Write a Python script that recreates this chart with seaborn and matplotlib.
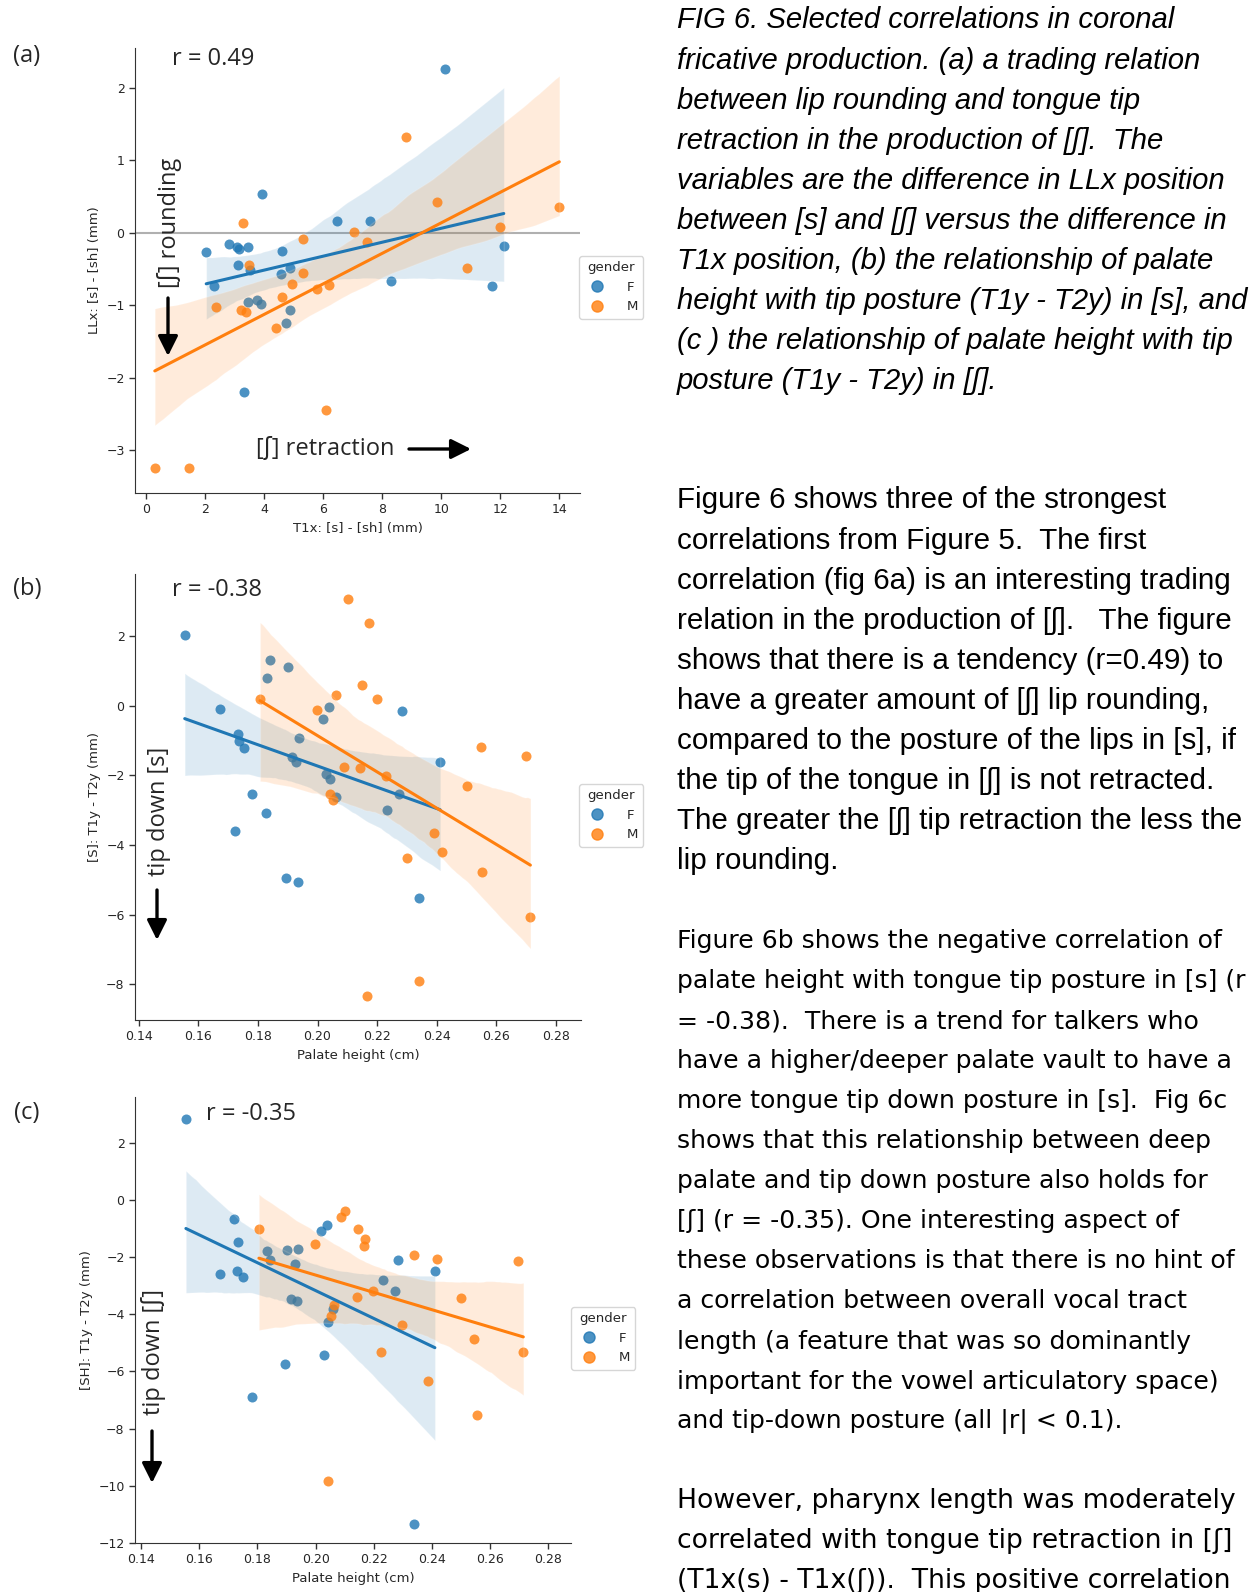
import matplotlib
matplotlib.use("Agg")
from matplotlib import pyplot as plt
from matplotlib.lines import Line2D
import pandas as pd
import seaborn as sns

# --- data ---
# (a) LLx vs T1x, [s] - [sh]
a_f_x = [10.13, 3.95, 6.49, 7.58, 2.05, 2.81, 3.10, 3.16, 3.47, 4.61, 3.12, 3.53,
         2.33, 4.59, 4.87, 8.29, 11.73, 12.12, 3.47, 3.78, 3.90, 4.87, 4.76, 3.33]
a_f_y = [2.26, 0.54, 0.16, 0.16, -0.26, -0.16, -0.19, -0.23, -0.19, -0.25, -0.44, -0.51,
         -0.73, -0.57, -0.49, -0.66, -0.74, -0.18, -0.96, -0.93, -0.98, -1.07, -1.25, -2.20]
a_m_x = [8.82, 9.87, 14.0, 3.30, 7.05, 5.31, 7.50, 11.98, 3.51, 5.31, 4.94, 5.80,
         6.22, 4.62, 10.88, 2.37, 3.23, 3.41, 4.42, 6.12, 0.31, 1.46]
a_m_y = [1.32, 0.43, 0.36, 0.14, 0.01, -0.08, -0.12, 0.08, -0.45, -0.55, -0.71, -0.78,
         -0.72, -0.89, -0.48, -1.02, -1.07, -1.09, -1.31, -2.44, -3.25, -3.25]

# (b) [s] tip posture vs palate height
b_f_x = [0.1554, 0.1671, 0.1734, 0.1736, 0.1752, 0.1841, 0.1832, 0.1902, 0.1938, 0.1914,
         0.1928, 0.1780, 0.1827, 0.1723, 0.1895, 0.1935, 0.2019, 0.2040, 0.2030, 0.2042,
         0.2063, 0.2233, 0.2273, 0.2283, 0.2412, 0.2340]
b_f_y = [2.03, -0.10, -0.80, -1.01, -1.20, 1.30, 0.80, 1.10, -0.92, -1.47,
         -1.62, -2.52, -3.09, -3.61, -4.95, -5.07, -0.37, -0.03, -1.97, -2.10,
         -2.63, -2.98, -2.52, -0.16, -1.61, -5.51]
b_m_x = [0.2102, 0.2172, 0.2148, 0.2063, 0.2199, 0.1807, 0.1998, 0.2090, 0.2142, 0.2229,
         0.2042, 0.2053, 0.2548, 0.2700, 0.2502, 0.2390, 0.2419, 0.2299, 0.2554, 0.2715,
         0.2340, 0.2166]
b_m_y = [3.07, 2.36, 0.59, 0.30, 0.20, 0.19, -0.11, -1.75, -1.78, -2.03,
         -2.53, -2.70, -1.18, -1.45, -2.30, -3.65, -4.21, -4.38, -4.77, -6.05,
         -7.89, -8.34]

# (c) [SH] tip posture vs palate height
c_f_x = [0.1554, 0.1721, 0.1734, 0.1670, 0.1731, 0.1751, 0.1832, 0.1842, 0.1901, 0.1939,
         0.1929, 0.1915, 0.1936, 0.1780, 0.1895, 0.2017, 0.2040, 0.2029, 0.2042, 0.2059,
         0.2232, 0.2272, 0.2282, 0.2410, 0.2337]
c_f_y = [2.84, -0.65, -1.47, -2.59, -2.49, -2.70, -1.79, -2.11, -1.74, -1.72,
         -2.23, -3.48, -3.55, -6.89, -5.73, -1.08, -0.87, -5.43, -4.27, -3.83,
         -2.81, -3.20, -2.10, -2.47, -11.32]
c_m_x = [0.2101, 0.2088, 0.2147, 0.2171, 0.2165, 0.1805, 0.1997, 0.2337, 0.2416, 0.2697,
         0.2198, 0.2141, 0.2501, 0.2063, 0.2054, 0.2298, 0.2546, 0.2226, 0.2714, 0.2387,
         0.2554, 0.2042]
c_m_y = [-0.37, -0.60, -1.03, -1.38, -1.60, -1.01, -1.53, -1.92, -2.06, -2.15,
         -3.19, -3.40, -3.42, -3.68, -4.05, -4.37, -4.88, -5.31, -5.33, -6.33,
         -7.51, -9.82]

genders = ["F", "M"]
colors = {"F": "#1f77b4", "M": "#ff7f0e"}

caption = [
    "FIG 6. Selected correlations in coronal",
    "fricative production. (a) a trading relation",
    "between lip rounding and tongue tip",
    "retraction in the production of [\u0283].  The",
    "variables are the difference in LLx position",
    "between [s] and [\u0283] versus the difference in",
    "T1x position, (b) the relationship of palate",
    "height with tip posture (T1y - T2y) in [s], and",
    "(c ) the relationship of palate height with tip",
    "posture (T1y - T2y) in [\u0283].",
]
para1 = [
    "Figure 6 shows three of the strongest",
    "correlations from Figure 5.  The first",
    "correlation (fig 6a) is an interesting trading",
    "relation in the production of [\u0283].   The figure",
    "shows that there is a tendency (r=0.49) to",
    "have a greater amount of [\u0283] lip rounding,",
    "compared to the posture of the lips in [s], if",
    "the tip of the tongue in [\u0283] is not retracted.",
    "The greater the [\u0283] tip retraction the less the",
    "lip rounding.",
]
para2 = [
    "Figure 6b shows the negative correlation of",
    "palate height with tongue tip posture in [s] (r",
    "= -0.38).  There is a trend for talkers who",
    "have a higher/deeper palate vault to have a",
    "more tongue tip down posture in [s].  Fig 6c",
    "shows that this relationship between deep",
    "palate and tip down posture also holds for",
    "[\u0283] (r = -0.35). One interesting aspect of",
    "these observations is that there is no hint of",
    "a correlation between overall vocal tract",
    "length (a feature that was so dominantly",
    "important for the vowel articulatory space)",
    "and tip-down posture (all |r| < 0.1).",
]
para3 = [
    "However, pharynx length was moderately",
    "correlated with tongue tip retraction in [\u0283]",
    "(T1x(s) - T1x(\u0283)).  This positive correlation",
]

W, H = 1260, 1592
sns.set_style("ticks")
plt.rcParams["font.family"] = ["DejaVu Sans"]
plt.rcParams["axes.edgecolor"] = "#333333"
plt.rcParams["xtick.color"] = "#333333"
plt.rcParams["ytick.color"] = "#333333"

fig = plt.figure(figsize=(W / 100, H / 100), dpi=100)
renderer = fig.canvas.get_renderer()

ANNOT_FONT = ["Open Sans", "DejaVu Sans"]


def fx(x):
    return x / W


def fy(y):
    return 1 - y / H


def make_df(fxs, fys, mxs, mys, xname, yname):
    return pd.DataFrame({
        xname: fxs + mxs,
        yname: fys + mys,
        "gender": ["F"] * len(fxs) + ["M"] * len(mxs),
    })


def panel(rect, df, xname, yname, xlim, ylim, xticks, yticks, legend_xy):
    left, top, right, bottom = rect
    ax = fig.add_axes([fx(left), fy(bottom), fx(right - left), (bottom - top) / H])
    for g in genders:
        sub = df[df["gender"] == g]
        sns.regplot(data=sub, x=xname, y=yname, ax=ax, color=colors[g], seed=3,
                    scatter_kws={"s": 52, "alpha": 0.8, "linewidths": 0},
                    line_kws={"lw": 2.2})
    ax.set_xlim(*xlim)
    ax.set_ylim(*ylim)
    ax.set_xticks(xticks)
    ax.set_yticks(yticks)
    ax.tick_params(labelsize=9, length=4, width=1, labelcolor="#262626")
    ax.set_xlabel(xname, fontsize=9.5, color="#262626")
    ax.set_ylabel(yname, fontsize=9.5, color="#262626")
    sns.despine(ax=ax)
    handles = [Line2D([], [], marker="o", ls="", color=colors[g], alpha=0.8, markersize=8)
               for g in genders]
    ax.legend(handles, genders, title="gender", loc="upper left",
              bbox_to_anchor=(fx(legend_xy[0]), fy(legend_xy[1])),
              bbox_transform=fig.transFigure, borderaxespad=0, frameon=True,
              fontsize=9.5, title_fontsize=9.5, handletextpad=1.2,
              edgecolor="#cccccc")
    return ax


df_a = make_df(a_f_x, a_f_y, a_m_x, a_m_y, "T1x: [s] - [sh] (mm)", "LLx: [s] - [sh] (mm)")
df_b = make_df(b_f_x, b_f_y, b_m_x, b_m_y, "Palate height (cm)", "[S]: T1y - T2y (mm)")
df_c = make_df(c_f_x, c_f_y, c_m_x, c_m_y, "Palate height (cm)", "[SH]: T1y - T2y (mm)")

ph_ticks = [0.14, 0.16, 0.18, 0.20, 0.22, 0.24, 0.26, 0.28]
ax_a = panel((135, 48, 580, 493), df_a, "T1x: [s] - [sh] (mm)", "LLx: [s] - [sh] (mm)",
             (-0.36, 14.7), (-3.59, 2.55), range(0, 15, 2), range(-3, 3), (579, 256))
ax_a.axhline(0, color="#b0b0b0", lw=1.5, zorder=0)
ax_b = panel((135, 574, 581, 1020), df_b, "Palate height (cm)", "[S]: T1y - T2y (mm)",
             (0.1387, 0.2885), (-9.02, 3.78), ph_ticks, range(-8, 3, 2), (579, 784))
ax_c = panel((135, 1097, 571, 1543), df_c, "Palate height (cm)", "[SH]: T1y - T2y (mm)",
             (0.1379, 0.2878), (-12, 3.6), ph_ticks, range(-12, 3, 2), (571, 1307))
for a in (ax_b, ax_c):
    a.set_xticklabels([f"{t:.2f}" for t in ph_ticks])

# --- panel annotations ---
for lab, y in (("(a)", 56), ("(b)", 589), ("(c)", 1113)):
    fig.text(fx(27), fy(y), lab, family=ANNOT_FONT, fontsize=17, ha="center", va="center")
fig.text(fx(172), fy(59), "r = 0.49", family=ANNOT_FONT, fontsize=17, va="center")
fig.text(fx(172), fy(590), "r = -0.38", family=ANNOT_FONT, fontsize=17, va="center")
fig.text(fx(206), fy(1114), "r = -0.35", family=ANNOT_FONT, fontsize=17, va="center")

fig.text(fx(170), fy(223), "[\u0283] rounding", family=ANNOT_FONT, fontsize=17,
         rotation=90, ha="center", va="center")
fig.text(fx(325), fy(449), "[\u0283] retraction", family=ANNOT_FONT, fontsize=17,
         ha="center", va="center")
fig.text(fx(159), fy(811), "tip down [s]", family=ANNOT_FONT, fontsize=17,
         rotation=90, ha="center", va="center")
fig.text(fx(154), fy(1352), "tip down [\u0283]", family=ANNOT_FONT, fontsize=17,
         rotation=90, ha="center", va="center")

arrow = dict(arrowstyle="-|>", lw=2.4, color="black", mutation_scale=30, shrinkA=0, shrinkB=0)
for (x0, y0, x1, y1) in ((168, 298, 168, 356), (409, 449, 471, 449),
                         (157, 890, 157, 940), (152, 1431, 152, 1483)):
    fig.add_artist(matplotlib.patches.FancyArrowPatch(
        (fx(x0), fy(y0)), (fx(x1), fy(y1)), transform=fig.transFigure, **arrow))


# --- right-hand text column ---
def fit_size(lines, family, style, target):
    widest = 0
    for line in lines:
        t = fig.text(0, 0, line, family=family, style=style, fontsize=20)
        widest = max(widest, t.get_window_extent(renderer).width)
        t.remove()
    return 20 * target / widest


def block(lines, y0, family, style, target):
    size = fit_size(lines, family, style, target)
    for i, line in enumerate(lines):
        fig.text(fx(677), fy(y0 + 40.05 * i), line, family=family, style=style,
                 fontsize=size, ha="left", va="center", color="black")


ARIAL = ["Liberation Sans", "DejaVu Sans"]
block(caption, 20.5, ARIAL, "italic", 570)
block(para1, 500.5, ARIAL, "normal", 563)
block(para2, 941, ["DejaVu Sans"], "normal", 570)
block(para3, 1500.6, ["DejaVu Sans"], "normal", 558)

fig.savefig("out.png", dpi=100)
